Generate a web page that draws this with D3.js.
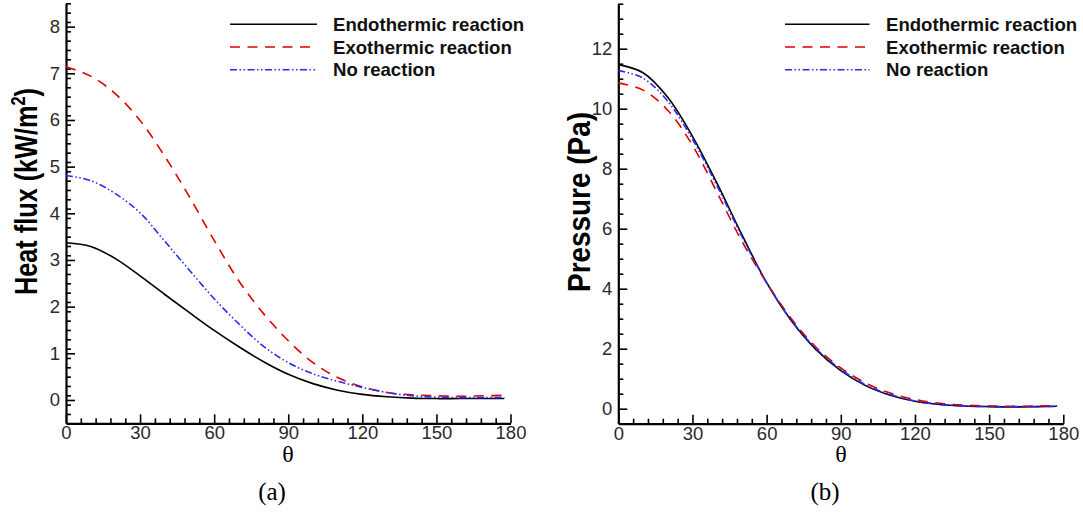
<!DOCTYPE html>
<html>
<head>
<meta charset="utf-8">
<script src="https://cdn.jsdelivr.net/npm/d3@7"></script>
<style>
  body { margin: 0; background: #fff; }
  svg { display: block; }
</style>
</head>
<body>
<div id="chart"></div>
<script>
const theta = [0, 10, 20, 30, 40, 50, 60, 70, 80, 90, 100, 110, 120, 130, 140, 150, 160, 170, 177.5];

const seriesNames = ["Endothermic reaction", "Exothermic reaction", "No reaction"];

// (a) heat flux, kW/m^2
const heatEndo = [3.37, 3.29, 3.03, 2.66, 2.26, 1.87, 1.49, 1.14, 0.82, 0.55, 0.35, 0.21, 0.12, 0.07, 0.04, 0.03, 0.03, 0.03, 0.03];
const heatExo  = [7.14, 6.94, 6.56, 5.99, 5.22, 4.35, 3.42, 2.55, 1.85, 1.27, 0.80, 0.48, 0.28, 0.16, 0.11, 0.09, 0.08, 0.09, 0.10];
const heatNone = [4.81, 4.70, 4.42, 4.01, 3.40, 2.78, 2.17, 1.63, 1.15, 0.80, 0.56, 0.40, 0.27, 0.16, 0.09, 0.06, 0.05, 0.05, 0.05];

// (b) pressure, Pa
const presEndo = [11.47, 11.20, 10.38, 9.08, 7.50, 5.80, 4.20, 2.93, 1.97, 1.27, 0.77, 0.45, 0.25, 0.14, 0.09, 0.07, 0.06, 0.07, 0.08];
const presExo  = [10.86, 10.62, 9.95, 8.78, 7.20, 5.58, 4.20, 3.00, 2.05, 1.36, 0.86, 0.52, 0.31, 0.18, 0.12, 0.09, 0.08, 0.09, 0.10];
const presNone = [11.27, 11.02, 10.25, 8.98, 7.42, 5.74, 4.20, 2.95, 2.00, 1.31, 0.80, 0.47, 0.26, 0.15, 0.09, 0.07, 0.07, 0.07, 0.08];

// tick labels
const xTicks = [0, 30, 60, 90, 120, 150, 180];
const heatTicks = [0, 1, 2, 3, 4, 5, 6, 7, 8];
const presTicks = [0, 2, 4, 6, 8, 10, 12];

const width = 1083;
const height = 512;

const styles = [
  {color: "#000000", dash: null},
  {color: "#dd0000", dash: "10,7.5"},
  {color: "#2a2aff", dash: "7,2.5,1.5,2.5,1.5,2.5"}
];

const svg = d3.select("#chart").append("svg")
    .attr("width", width)
    .attr("height", height)
    .attr("viewBox", [0, 0, width, height]);

svg.append("rect").attr("width", width).attr("height", height).attr("fill", "#fff");

_panel({
  left: 66, right: 510.5, top: 3.3, bottom: 423.3,
  yDomain: [-0.5, 8.5], yTicks: heatTicks, yMinor: 0.2,
  series: [heatEndo, heatExo, heatNone],
  legendLine: [230, 317], legendText: 333,
  yLabel: ["Heat flux (kW/m", "2", ")"], yLabelX: 37, yLabelY: 191.5, yLabelLen: 207,
  thetaX: 288, tag: "(a)", tagX: 272
});

_panel({
  left: 618.3, right: 1063.3, top: 3.7, bottom: 423.7,
  yDomain: [-0.5, 13.5], yTicks: presTicks, yMinor: 0.5,
  series: [presEndo, presExo, presNone],
  legendLine: [785, 869.5], legendText: 886,
  yLabel: ["Pressure (Pa)"], yLabelX: 590, yLabelY: 202, yLabelLen: 180,
  thetaX: 841, tag: "(b)", tagX: 825
});

function _panel(p) {
  const x = d3.scaleLinear()
      .domain([0, 180])
      .range([p.left, p.right]);

  const y = d3.scaleLinear()
      .domain(p.yDomain)
      .range([p.bottom, p.top]);

  const xMinor = d3.range(0, 181, 6).filter(d => d % 30 !== 0);
  const yMinor = d3.range(p.yDomain[0], p.yDomain[1] + 1e-6, p.yMinor)
      .map(d => Math.round(d * 10) / 10)
      .filter(d => !p.yTicks.includes(d) && d > p.yDomain[0] + 1e-6);

  const g = svg.append("g");

  // minor ticks
  g.append("g")
      .attr("transform", `translate(0,${p.bottom})`)
      .call(d3.axisBottom(x).tickValues(xMinor).tickSize(-5).tickFormat(""))
      .call(a => a.select(".domain").remove());
  g.append("g")
      .attr("transform", `translate(${p.left},0)`)
      .call(d3.axisLeft(y).tickValues(yMinor).tickSize(-5).tickFormat(""))
      .call(a => a.select(".domain").remove());

  // major ticks + labels
  const xAxis = g.append("g")
      .attr("transform", `translate(0,${p.bottom})`)
      .call(d3.axisBottom(x).tickValues(xTicks).tickSize(-9).tickSizeOuter(0).tickPadding(3));
  const yAxis = g.append("g")
      .attr("transform", `translate(${p.left},0)`)
      .call(d3.axisLeft(y).tickValues(p.yTicks).tickSize(-9).tickSizeOuter(0).tickPadding(6));

  g.selectAll(".tick line").attr("stroke", "#000").attr("stroke-width", 1.6);
  g.selectAll(".domain").attr("stroke", "#000").attr("stroke-width", 2.2);
  [xAxis, yAxis].forEach(a => a
      .attr("font-family", "'Liberation Sans', Arial, sans-serif")
      .attr("font-size", 18.5)
      .selectAll("text").attr("fill", "#2a2a2a"));

  // curves
  const line = d3.line()
      .curve(d3.curveCatmullRom.alpha(0.5))
      .x((d, i) => x(theta[i]))
      .y(d => y(d));

  g.append("g")
      .attr("fill", "none")
      .attr("stroke-width", 1.6)
    .selectAll("path")
    .data(p.series)
    .join("path")
      .attr("stroke", (d, i) => styles[i].color)
      .attr("stroke-dasharray", (d, i) => styles[i].dash)
      .attr("d", line);

  // legend
  const legend = g.append("g")
    .selectAll("g")
    .data(seriesNames)
    .join("g")
      .attr("transform", (d, i) => `translate(0,${24.3 + i * 22.7})`);

  legend.append("line")
      .attr("x1", p.legendLine[0])
      .attr("x2", p.legendLine[1])
      .attr("stroke", (d, i) => styles[i].color)
      .attr("stroke-dasharray", (d, i) => styles[i].dash)
      .attr("stroke-width", 1.6);

  legend.append("text")
      .attr("x", p.legendText)
      .attr("y", 6.7)
      .attr("font-family", "'Liberation Sans', Arial, sans-serif")
      .attr("font-weight", "bold")
      .attr("font-size", 18.6)
      .attr("fill", "#111")
      .text(d => d);

  // y label, squeezed to the width seen in the figure
  const yl = g.append("text")
      .attr("font-family", "'Liberation Sans', Arial, sans-serif")
      .attr("font-weight", "bold")
      .attr("font-size", 31)
      .attr("fill", "#000")
      .attr("text-anchor", "middle");
  yl.append("tspan").text(p.yLabel[0]);
  if (p.yLabel.length > 1) {
    yl.append("tspan").attr("dy", -12).attr("font-size", 20).text(p.yLabel[1]);
    yl.append("tspan").attr("dy", 12).text(p.yLabel[2]);
  }
  const natural = yl.node().getComputedTextLength();
  yl.attr("transform", `translate(${p.yLabelX},${p.yLabelY}) rotate(-90) scale(${p.yLabelLen / natural},1)`);

  // theta and panel tag
  g.append("text")
      .attr("x", p.thetaX)
      .attr("y", 462)
      .attr("text-anchor", "middle")
      .attr("font-family", "'Liberation Serif', 'Times New Roman', serif")
      .attr("font-size", 24)
      .text("θ");

  g.append("text")
      .attr("x", p.tagX)
      .attr("y", 500)
      .attr("text-anchor", "middle")
      .attr("font-family", "'Liberation Serif', 'Times New Roman', serif")
      .attr("font-size", 25)
      .text(p.tag);
}
</script>
</body>
</html>
